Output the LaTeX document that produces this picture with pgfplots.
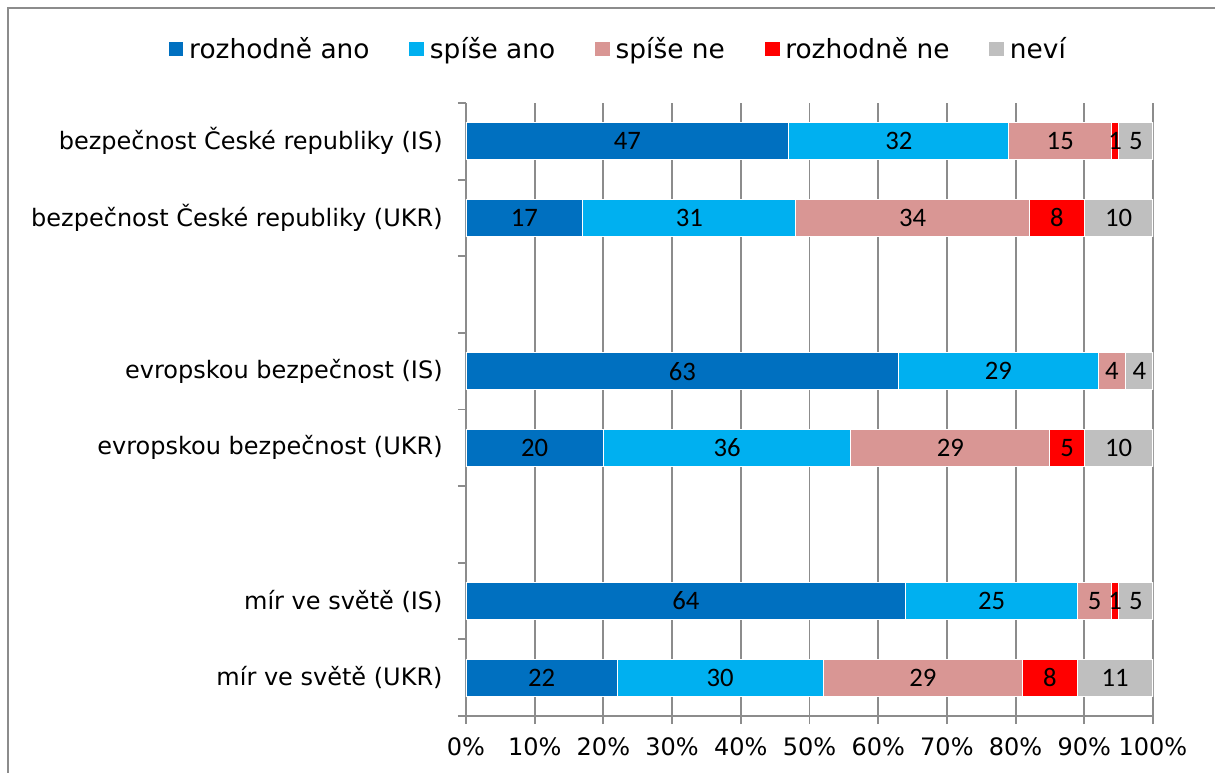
\documentclass[border=0pt]{standalone}
\usepackage{pgfplots}
\pgfplotsset{compat=1.18}
\usepackage{pgfplotstable}
\usepackage{fontspec}
\setmainfont{DejaVu Sans}
\newfontfamily\labfont{Carlito}
\definecolor{cA}{HTML}{0070C0}
\definecolor{cB}{HTML}{00B0F0}
\definecolor{cC}{HTML}{D99694}
\definecolor{cD}{HTML}{FF0000}
\definecolor{cE}{HTML}{BFBFBF}
\definecolor{gridc}{HTML}{8C8C8C}
\pgfplotstableread{
y a b c d e
1 47 32 15 1 5
2 17 31 34 8 10
4 63 29 4 0 4
5 20 36 29 5 10
7 64 25 5 1 5
8 22 30 29 8 11
}\data
\begin{document}
\begin{tikzpicture}
\path[use as bounding box] (0,0) rectangle (911.25pt,-579.75pt);
\draw[gridc, line width=1.5pt] (6pt,-600pt) -- (6pt,-6pt) -- (930pt,-6pt);
\begin{axis}[
  at={(349.5pt,-537pt)}, anchor=south west,
  scale only axis, width=515.25pt, height=459.75pt,
  xbar stacked, bar width=0.48,
  xmin=0, xmax=100, ymin=0.5, ymax=8.5, y dir=reverse,
  axis x line*=bottom, axis y line*=left,
  axis line style={gridc, line width=1.4pt},
  tick style={gridc, line width=1.4pt},
  tick align=outside, major tick length=6pt,
  xtick={0,10,...,100},
  xticklabels={0\%,10\%,20\%,30\%,40\%,50\%,60\%,70\%,80\%,90\%,100\%},
  xmajorgrids, grid style={gridc, line width=1.4pt},
  ytick={0.5,1.5,...,8.5}, yticklabels={},
  extra y ticks={1,2,4,5,7,8},
  extra y tick labels={bezpečnost České republiky (IS),bezpečnost České republiky (UKR),evropskou bezpečnost (IS),evropskou bezpečnost (UKR),mír ve světě (IS),mír ve světě (UKR)},
  extra y tick style={major tick length=0pt},
  ticklabel style={font=\fontsize{18}{22}\selectfont},
  yticklabel style={xshift=-14pt},
  xticklabel style={yshift=-7pt},
  /pgf/number format/assume math mode=true,
  legend style={at={(0.2213,1.0881)}, anchor=center, draw=none, fill=none,
    font=\fontsize{19.8}{23}\selectfont, legend columns=5,
    /tikz/every odd column/.append style={column sep=1.5pt},
    /tikz/every even column/.append style={column sep=27pt}},
  legend image code/.code={\fill[#1] (0pt,-6pt) rectangle (12pt,6pt);},
  point meta=explicit,
  nodes near coords={\pgfmathfloatifflags{\pgfplotspointmeta}{0}{}{\pgfmathprintnumber[assume math mode=true]{\pgfplotspointmeta}}},
  every node near coord/.append style={anchor=center, text=black, font=\labfont\fontsize{20}{22}\selectfont},
  every axis plot/.append style={draw=white, line width=0.8pt},
]
\addplot[fill=cA] table[x=a, y=y, meta=a] {\data};
\addplot[fill=cB] table[x=b, y=y, meta=b] {\data};
\addplot[fill=cC] table[x=c, y=y, meta=c] {\data};
\addplot[fill=cD] table[x=d, y=y, meta=d] {\data};
\addplot[fill=cE] table[x=e, y=y, meta=e] {\data};
\legend{rozhodně ano, spíše ano, spíše ne, rozhodně ne, neví}
\end{axis}
\end{tikzpicture}
\end{document}
